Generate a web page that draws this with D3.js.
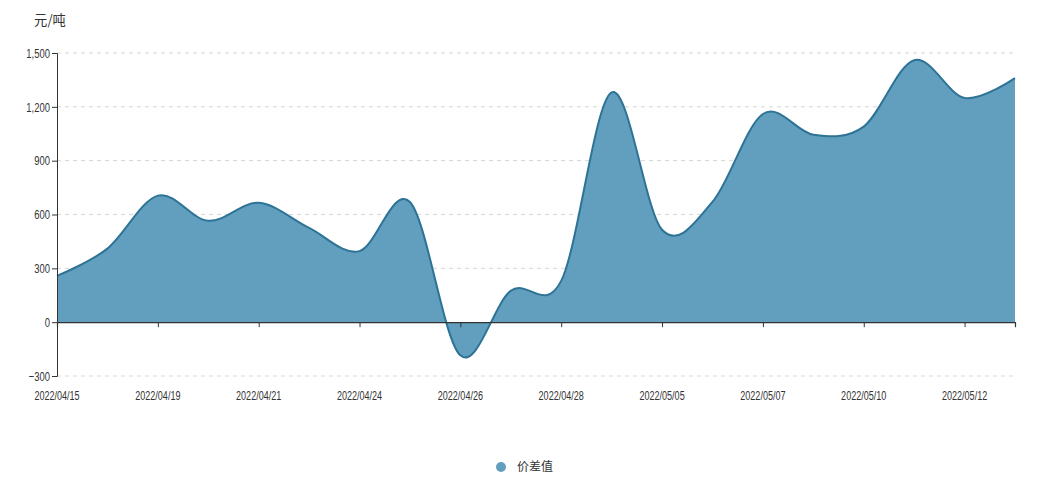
<!DOCTYPE html>
<html>
<head>
<meta charset="utf-8">
<script src="https://cdn.jsdelivr.net/npm/d3@7"></script>
<style>
  html, body { margin: 0; padding: 0; background: #fff; }
  svg text { font-family: "Liberation Sans", Arial, "Noto Sans CJK SC", sans-serif; }
</style>
</head>
<body>
<svg id="chart" width="1045" height="490"></svg>
<script>
const dates = ["2022/04/15","2022/04/18","2022/04/19","2022/04/20","2022/04/21","2022/04/22",
  "2022/04/24","2022/04/25","2022/04/26","2022/04/27","2022/04/28","2022/04/29",
  "2022/05/05","2022/05/06","2022/05/07","2022/05/09","2022/05/10","2022/05/11",
  "2022/05/12","2022/05/13"];
const values = [258, 410, 705, 565, 665, 525, 396, 670, -185, 175, 230, 1280,
  515, 670, 1160, 1045, 1090, 1460, 1250, 1360];
const yTicks = [-300, 0, 300, 600, 900, 1200, 1500];
const unitLabel = "元/吨";
const seriesName = "价差值";

const svg = d3.select("#chart");
const mLeft = 57, mRight = 1015, mTop = 53, mBottom = 376;
const x = d3.scalePoint().domain(dates).range([mLeft, mRight]);
const y = d3.scaleLinear().domain([-300, 1500]).range([mBottom, mTop]);
const fillColor = "#629fbe", lineColor = "#2d7396";
const sx = 0.7;

// grid lines
svg.append("g").selectAll("line").data(yTicks.filter(d => d !== 0)).join("line")
  .attr("x1", mLeft).attr("x2", mRight)
  .attr("y1", d => y(d)).attr("y2", d => y(d))
  .attr("stroke", "#d6d6d6").attr("stroke-dasharray", "4,4").attr("stroke-width", 1);

// area + line
const curve = d3.curveCardinal.tension(0);
svg.append("path").datum(values)
  .attr("fill", fillColor)
  .attr("d", d3.area().x((d, i) => x(dates[i])).y0(y(0)).y1(d => y(d)).curve(curve));
svg.append("path").datum(values)
  .attr("fill", "none").attr("stroke", lineColor).attr("stroke-width", 2)
  .attr("d", d3.line().x((d, i) => x(dates[i])).y(d => y(d)).curve(curve));

// y axis
const yAxis = svg.append("g").attr("transform", `translate(${mLeft},0)`)
  .call(d3.axisLeft(y).tickValues(yTicks).tickFormat(d3.format(",")).tickSize(5).tickPadding(4));
yAxis.select(".domain").attr("stroke", "#333");
yAxis.selectAll(".tick line").attr("stroke", "#333");
yAxis.selectAll(".tick text").attr("fill", "#333").style("font-size", "13.5px")
  .attr("x", -7 / sx).attr("transform", `scale(${sx},1)`);

// x axis at zero
const labelDates = dates.filter((d, i) => i % 2 === 0);
const xAxis = svg.append("g").attr("transform", `translate(0,${y(0)})`)
  .call(d3.axisBottom(x).tickValues(labelDates).tickSize(5).tickFormat(""));
xAxis.select(".domain").attr("stroke", "#333").attr("stroke-width", 1.2);
xAxis.selectAll(".tick line").attr("stroke", "#333");

// x labels at the bottom
svg.append("g").selectAll("text").data(labelDates).join("text")
  .attr("transform", d => `translate(${x(d)},400) scale(0.67,1)`)
  .attr("text-anchor", "middle").attr("fill", "#333").style("font-size", "13.5px")
  .text(d => d);

// unit label
svg.append("text").attr("transform", "translate(50,25) scale(0.95,1)")
  .attr("text-anchor", "middle").attr("fill", "#333").style("font-size", "14px")
  .style("font-family", "'Noto Sans CJK SC', sans-serif").text(unitLabel);

// legend
const lg = svg.append("g").attr("transform", "translate(501,467)");
lg.append("circle").attr("r", 5).attr("fill", fillColor);
lg.append("text").attr("x", 16).attr("y", 4).attr("fill", "#333").style("font-size", "12px")
  .style("font-family", "'Noto Sans CJK SC', sans-serif").text(seriesName);
</script>
</body>
</html>
